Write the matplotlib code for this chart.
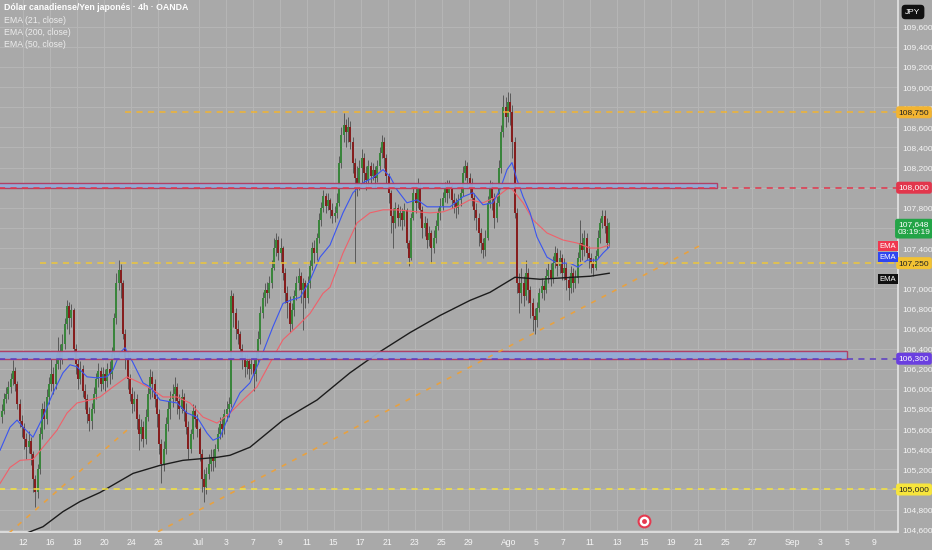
import matplotlib
matplotlib.use("Agg")
import matplotlib.pyplot as plt
import matplotlib.transforms as mtransforms
from matplotlib.patches import Rectangle
from matplotlib.ticker import FuncFormatter
import numpy as np
import pandas as pd

plt.rcParams['font.family'] = ['Liberation Sans Narrow', 'Liberation Sans', 'DejaVu Sans']

# CAD/JPY 4h candles, one row per trading day starting Jun 10 2025
first_day = "2025-06-10"
first_open = 105.88

closes = [
    [105.80, 105.72, 105.78, 105.90, 105.95, 106.02],
    [106.10, 106.18, 106.05, 105.85, 105.68, 105.62],
    [105.50, 105.42, 105.48, 105.35, 105.10, 104.98],
    [105.20, 105.55, 105.80, 105.70, 105.92, 106.05],
    [106.15, 106.05, 106.25, 106.38, 106.30, 106.45],
    [106.65, 106.82, 106.70, 106.78, 106.40, 106.25],
    [106.10, 106.20, 105.98, 105.90, 105.75, 105.68],
    [105.80, 105.95, 106.10, 106.18, 106.05, 106.15],
    [106.08, 106.20, 106.15, 106.35, 106.70, 107.05],
    [107.18, 107.05, 106.55, 106.30, 106.10, 105.95],
    [105.85, 105.90, 105.70, 105.55, 105.62, 105.50],
    [105.72, 105.95, 106.12, 106.05, 105.90, 105.75],
    [105.45, 105.25, 105.40, 105.65, 105.80, 105.90],
    [105.95, 106.02, 105.88, 105.80, 105.92, 105.78],
    [105.62, 105.40, 105.55, 105.78, 105.70, 105.60],
    [105.35, 105.10, 105.02, 105.15, 105.25, 105.32],
    [105.28, 105.40, 105.55, 105.65, 105.60, 105.75],
    [105.80, 105.85, 106.92, 106.75, 106.60, 106.55],
    [106.40, 106.30, 106.22, 106.28, 106.20, 106.25],
    [106.15, 106.30, 106.50, 106.75, 106.90, 106.98],
    [106.95, 107.05, 107.20, 107.40, 107.48, 107.35],
    [107.40, 107.15, 106.95, 106.85, 106.65, 106.78],
    [106.92, 107.05, 107.12, 106.98, 107.05, 106.90],
    [107.05, 107.22, 107.40, 107.35, 107.50, 107.68],
    [107.80, 107.92, 107.82, 107.88, 107.78, 107.72],
    [107.75, 107.85, 108.25, 108.52, 108.62, 108.55],
    [108.60, 108.45, 108.25, 108.10, 108.02, 108.20],
    [108.30, 108.15, 108.08, 108.22, 108.12, 108.18],
    [108.10, 108.22, 108.35, 108.45, 108.30, 108.12],
    [107.95, 107.72, 107.65, 107.80, 107.70, 107.75],
    [107.68, 107.78, 107.45, 107.30, 107.70, 107.95],
    [107.85, 108.00, 107.78, 107.60, 107.65, 107.48],
    [107.55, 107.40, 107.50, 107.62, 107.75, 107.82],
    [107.90, 108.00, 107.95, 108.02, 107.88, 107.85],
    [107.80, 107.88, 107.95, 108.15, 108.22, 108.10],
    [108.05, 107.90, 107.78, 107.70, 107.55, 107.45],
    [107.38, 107.50, 107.85, 108.02, 107.90, 107.70],
    [107.85, 108.20, 108.55, 108.80, 108.70, 108.85],
    [108.75, 108.45, 107.75, 107.05, 106.95, 107.05],
    [106.92, 107.15, 106.98, 106.85, 106.72, 106.68],
    [106.80, 106.95, 107.02, 106.98, 107.12, 107.18],
    [107.10, 107.25, 107.35, 107.22, 107.30, 107.15],
    [107.20, 107.08, 107.00, 107.15, 107.05, 107.10],
    [107.30, 107.45, 107.38, 107.50, 107.35, 107.30],
    [107.25, 107.20, 107.32, 107.50, 107.65, 107.72],
    [107.62, 107.45, 107.648],
]
highs = [
    [105.92, 105.84, 105.85, 105.96, 106.02, 106.08],
    [106.16, 106.29, 106.22, 106.08, 105.90, 105.74],
    [105.66, 105.56, 105.58, 105.52, 105.38, 105.14],
    [105.25, 105.62, 105.86, 105.88, 106.00, 106.12],
    [106.30, 106.22, 106.35, 106.52, 106.45, 106.55],
    [106.70, 106.88, 106.86, 106.84, 106.80, 106.45],
    [106.32, 106.28, 106.24, 106.05, 105.95, 105.82],
    [105.86, 106.02, 106.16, 106.26, 106.22, 106.22],
    [106.20, 106.26, 106.28, 106.42, 106.75, 107.15],
    [107.28, 107.24, 107.08, 106.60, 106.38, 106.15],
    [106.02, 105.98, 105.95, 105.75, 105.70, 105.68],
    [105.80, 106.02, 106.20, 106.18, 106.10, 105.95],
    [105.80, 105.50, 105.48, 105.72, 105.88, 105.98],
    [106.05, 106.12, 106.06, 105.95, 106.00, 105.96],
    [105.86, 105.68, 105.60, 105.85, 105.84, 105.75],
    [105.62, 105.40, 105.20, 105.22, 105.35, 105.40],
    [105.40, 105.45, 105.62, 105.72, 105.72, 105.80],
    [105.88, 105.92, 106.98, 106.95, 106.80, 106.68],
    [106.58, 106.45, 106.35, 106.35, 106.32, 106.30],
    [106.30, 106.38, 106.58, 106.82, 106.96, 107.05],
    [107.06, 107.12, 107.28, 107.50, 107.55, 107.52],
    [107.50, 107.42, 107.20, 107.02, 106.92, 106.85],
    [106.98, 107.12, 107.20, 107.16, 107.10, 107.08],
    [107.12, 107.28, 107.46, 107.48, 107.55, 107.75],
    [107.86, 107.98, 107.95, 107.95, 107.90, 107.85],
    [107.82, 107.95, 108.32, 108.60, 108.74, 108.68],
    [108.70, 108.66, 108.50, 108.30, 108.22, 108.28],
    [108.38, 108.35, 108.22, 108.28, 108.26, 108.25],
    [108.22, 108.28, 108.40, 108.52, 108.50, 108.34],
    [108.15, 107.98, 107.80, 107.86, 107.84, 107.82],
    [107.80, 107.85, 107.80, 107.48, 107.75, 108.02],
    [108.02, 108.10, 108.05, 107.82, 107.72, 107.70],
    [107.62, 107.58, 107.58, 107.68, 107.80, 107.90],
    [107.96, 108.06, 108.08, 108.08, 108.04, 107.95],
    [107.90, 107.94, 108.02, 108.22, 108.28, 108.26],
    [108.15, 108.10, 107.95, 107.85, 107.75, 107.60],
    [107.50, 107.58, 107.92, 108.08, 108.06, 107.95],
    [107.92, 108.28, 108.62, 108.92, 108.90, 108.95],
    [108.94, 108.82, 108.50, 107.80, 107.15, 107.20],
    [107.12, 107.28, 107.20, 107.02, 106.90, 106.80],
    [106.86, 107.00, 107.10, 107.08, 107.20, 107.25],
    [107.25, 107.32, 107.42, 107.40, 107.38, 107.34],
    [107.30, 107.25, 107.12, 107.22, 107.20, 107.18],
    [107.36, 107.68, 107.55, 107.58, 107.55, 107.42],
    [107.35, 107.30, 107.38, 107.58, 107.70, 107.78],
    [107.78, 107.70, 107.66],
]
lows = [
    [105.74, 105.64, 105.66, 105.75, 105.86, 105.90],
    [105.96, 106.04, 105.98, 105.80, 105.62, 105.52],
    [105.40, 105.30, 105.36, 105.24, 104.98, 104.83],
    [104.92, 105.15, 105.50, 105.60, 105.65, 105.85],
    [105.98, 105.95, 106.00, 106.20, 106.20, 106.25],
    [106.40, 106.60, 106.55, 106.62, 106.35, 106.15],
    [106.00, 106.05, 105.92, 105.80, 105.66, 105.58],
    [105.60, 105.76, 105.90, 106.02, 105.98, 106.00],
    [105.98, 106.02, 106.05, 106.10, 106.30, 106.65],
    [106.98, 106.90, 106.50, 106.20, 106.00, 105.88],
    [105.76, 105.78, 105.60, 105.39, 105.48, 105.42],
    [105.45, 105.68, 105.90, 105.92, 105.82, 105.62],
    [105.35, 105.06, 105.18, 105.35, 105.58, 105.70],
    [105.82, 105.88, 105.75, 105.70, 105.76, 105.68],
    [105.55, 105.30, 105.36, 105.50, 105.62, 105.52],
    [105.28, 104.98, 104.88, 104.96, 105.10, 105.18],
    [105.18, 105.22, 105.38, 105.50, 105.52, 105.55],
    [105.68, 105.72, 105.82, 106.62, 106.50, 106.45],
    [106.32, 106.20, 106.12, 106.15, 106.10, 106.15],
    [105.98, 106.08, 106.25, 106.45, 106.70, 106.82],
    [106.85, 106.90, 107.00, 107.18, 107.32, 107.28],
    [107.25, 107.08, 106.85, 106.70, 106.57, 106.60],
    [106.72, 106.88, 106.98, 106.85, 106.59, 106.80],
    [106.85, 107.00, 107.18, 107.25, 107.28, 107.45],
    [107.62, 107.76, 107.75, 107.78, 107.70, 107.65],
    [107.66, 107.70, 107.82, 108.20, 108.45, 108.40],
    [108.45, 108.38, 108.15, 107.25, 107.92, 107.98],
    [108.05, 108.05, 107.98, 108.02, 108.04, 108.08],
    [108.00, 108.06, 108.18, 108.30, 108.20, 108.05],
    [107.85, 107.55, 107.40, 107.60, 107.62, 107.62],
    [107.58, 107.62, 107.40, 107.22, 107.28, 107.68],
    [107.75, 107.80, 107.70, 107.50, 107.52, 107.40],
    [107.42, 107.25, 107.35, 107.45, 107.58, 107.68],
    [107.78, 107.86, 107.85, 107.90, 107.80, 107.75],
    [107.70, 107.74, 107.82, 107.92, 108.08, 108.00],
    [107.95, 107.82, 107.68, 107.58, 107.42, 107.35],
    [107.30, 107.32, 107.48, 107.80, 107.78, 107.60],
    [107.66, 107.82, 108.15, 108.50, 108.60, 108.65],
    [108.62, 108.30, 107.70, 106.95, 106.75, 106.85],
    [106.82, 106.88, 106.85, 106.70, 106.58, 106.55],
    [106.62, 106.76, 106.90, 106.88, 106.95, 107.05],
    [107.02, 107.05, 107.20, 107.12, 107.15, 107.08],
    [107.08, 106.98, 106.88, 106.95, 106.96, 107.00],
    [107.05, 107.25, 107.28, 107.32, 107.28, 107.20],
    [107.15, 107.12, 107.18, 107.30, 107.45, 107.60],
    [107.55, 107.40, 107.42],
]

# EMA traces: (trading day from Jun 10, price)
ema21 = [(0.30, 105.39), (1.04, 105.62), (1.56, 105.69), (2.0, 105.62), (2.74, 105.52),
         (3.48, 105.72), (4.22, 105.96), (4.96, 106.16), (5.48, 106.24), (6.0, 106.22),
         (6.74, 106.12), (7.48, 106.11), (8.22, 106.12), (8.67, 106.19), (9.19, 106.36),
         (9.56, 106.41), (10.15, 106.26), (10.89, 106.06), (11.41, 106.02), (12.15, 105.89),
         (13.41, 105.86), (14.15, 105.76), (14.89, 105.72), (15.63, 105.56), (16.07, 105.49),
         (16.59, 105.52), (17.33, 105.76), (18.07, 105.96), (18.81, 106.06), (19.56, 106.29),
         (20.52, 106.62), (21.26, 106.85), (21.78, 106.88), (22.52, 106.91), (23.26, 107.08),
         (24.0, 107.31), (24.74, 107.43), (25.70, 107.75), (26.44, 107.95), (27.19, 108.05),
         (27.93, 108.10), (28.67, 108.18), (29.19, 108.11), (29.70, 107.98), (30.44, 107.85),
         (31.19, 107.88), (31.93, 107.81), (32.67, 107.81), (33.63, 107.81), (34.59, 107.91),
         (35.33, 107.95), (36.07, 107.83), (36.81, 107.85), (37.33, 107.98), (37.85, 108.18),
         (38.22, 108.25), (38.59, 108.08), (39.04, 107.91), (39.56, 107.75), (40.07, 107.51),
         (40.81, 107.31), (41.56, 107.25), (42.52, 107.25), (43.11, 107.21), (43.78, 107.28),
         (44.52, 107.28), (44.96, 107.35), (45.42, 107.41)]
ema50 = [(0.30, 105.06), (1.04, 105.22), (1.78, 105.29), (2.74, 105.30), (3.48, 105.42),
         (4.52, 105.59), (5.26, 105.76), (6.0, 105.86), (6.96, 105.89), (7.70, 105.92),
         (8.67, 106.02), (9.70, 106.12), (10.67, 106.06), (11.63, 105.99), (12.37, 105.92),
         (13.41, 105.92), (14.37, 105.86), (15.33, 105.72), (16.37, 105.66), (17.33, 105.76),
         (18.30, 105.89), (19.33, 106.02), (20.30, 106.26), (21.26, 106.49), (22.30, 106.62),
         (23.26, 106.75), (24.22, 106.95), (24.74, 107.01), (25.70, 107.35), (26.74, 107.65),
         (27.70, 107.75), (28.67, 107.78), (29.70, 107.78), (31.19, 107.76), (32.15, 107.75),
         (33.11, 107.76), (34.15, 107.81), (35.11, 107.88), (36.07, 107.85), (37.11, 107.91),
         (38.07, 108.01), (39.04, 107.85), (39.78, 107.68), (40.81, 107.55), (42.0, 107.48),
         (43.04, 107.45), (44.0, 107.40), (44.74, 107.40), (45.42, 107.43)]
ema200 = [(0.30, 104.47), (2.52, 104.58), (3.48, 104.63), (4.96, 104.78), (6.22, 104.88),
          (7.70, 104.97), (10.15, 105.16), (12.15, 105.24), (13.85, 105.29), (16.37, 105.32),
          (17.33, 105.34), (18.81, 105.42), (21.26, 105.69), (23.78, 105.89), (26.22, 106.16),
          (28.44, 106.37), (30.67, 106.56), (32.89, 106.73), (35.11, 106.88), (36.59, 106.96),
          (38.07, 107.08), (38.44, 107.11), (40.30, 107.09), (42.74, 107.11), (44.0, 107.12),
          (45.42, 107.15)]

# drawings
zone_top = (108.00, 108.05, 53.4)      # low, high, right end (trading day)
zone_low = (106.30, 106.38, 63.0)
level_lines = [(108.75, 9.56, '#f2b431'), (107.25, 3.26, '#eec63a'), (105.00, 0.0, '#f7e53c'),
               (108.00, 0.0, '#e2364c'), (106.30, 0.0, '#5b3cc4')]
trend_lines = [((0.30, 104.49), (9.70, 105.59)), ((12.0, 104.58), (52.5, 107.45))]
event_day, event_price = 48.0, 104.69

tick_dates = ["2025-06-12", "2025-06-16", "2025-06-18", "2025-06-20", "2025-06-24", "2025-06-26",
              "2025-07-01", "2025-07-03", "2025-07-07", "2025-07-09", "2025-07-11", "2025-07-15",
              "2025-07-17", "2025-07-21", "2025-07-23", "2025-07-25", "2025-07-29", "2025-08-01",
              "2025-08-05", "2025-08-07", "2025-08-11", "2025-08-13", "2025-08-15", "2025-08-19",
              "2025-08-21", "2025-08-25", "2025-08-27", "2025-09-01", "2025-09-03", "2025-09-05",
              "2025-09-09"]
tick_labels = ["12", "16", "18", "20", "24", "26", "Jul", "3", "7", "9", "11", "15", "17", "21",
               "23", "25", "29", "Ago", "5", "7", "11", "13", "15", "19", "21", "25", "27", "Sep",
               "3", "5", "9"]
# price-axis labels hidden behind the coloured price tags
hidden_ticks = [108.0, 107.6, 107.2, 105.0]

BG = '#a9a9a9'
GRID = '#b6b6b6'
TXT = '#f5f5f5'

# flatten candles
xs, o, h, l, c = [], [], [], [], []
prev = first_open
for day, (cs, hs, ls) in enumerate(zip(closes, highs, lows)):
    for k in range(len(cs)):
        xs.append(day + k / 6 + 1 / 12)
        o.append(prev)
        c.append(cs[k])
        h.append(max(hs[k], prev, cs[k]))
        l.append(min(ls[k], prev, cs[k]))
        prev = cs[k]
xs, o, h, l, c = map(np.array, (xs, o, h, l, c))
up = c >= o

fig = plt.figure(figsize=(9.32, 5.5), dpi=100)
fig.patch.set_facecolor(BG)
ax = fig.add_axes([0, 18 / 550, 898 / 932, 532 / 550])
ax.set_facecolor(BG)

ax.vlines(xs, l, h, colors='#545454', lw=0.65, zorder=3)
ax.bar(xs, np.maximum(np.abs(c - o), 0.006), bottom=np.minimum(o, c), width=0.15,
       color=np.where(up, '#3a853c', '#861e1e'), linewidth=0, zorder=4)

for pts, col, lw in [(ema200, '#1c1c1c', 1.0), (ema50, '#f0606a', 0.8), (ema21, '#3a55f0', 0.8)]:
    px, py = zip(*pts)
    ax.plot(px, py, color=col, lw=lw, zorder=5)

x_left, x_right = 0.296, 66.81
for lo, hi, xr in (zone_top, zone_low):
    ax.add_patch(Rectangle((x_left - 1, lo), xr - x_left + 1, hi - lo, facecolor='#93acd8',
                           edgecolor='#b03a62', lw=1.0, alpha=0.95, zorder=6))
for price, x0, col in level_lines:
    ax.hlines(price, max(x0, x_left - 1), x_right + 1, colors=col, lw=1.1,
              linestyles=(0, (4, 3.5)), zorder=7)
for (x0, y0), (x1, y1) in trend_lines:
    ax.plot([x0, x1], [y0, y1], color='#f3a02e', lw=1.2, ls=(0, (3, 4)), alpha=0.85, zorder=6)

ax.plot(event_day, event_price, 'o', ms=10, mfc='#e5394f', mec='none', zorder=8, clip_on=False)
ax.plot(event_day, event_price, 'o', ms=7, mfc='white', mec='none', zorder=8, clip_on=False)
ax.plot(event_day, event_price, 'o', ms=3.5, mfc='#e5394f', mec='none', zorder=8, clip_on=False)

ax.set_xlim(x_left, x_right)
ax.set_ylim(104.5775, 109.866)

bdays = pd.bdate_range(first_day, "2025-09-30")
tick_pos = [bdays.get_loc(pd.Timestamp(d)) for d in tick_dates]
ax.set_xticks(tick_pos)
ax.set_xticklabels(tick_labels)
ax.yaxis.tick_right()
ax.set_yticks(np.round(np.arange(104.6, 109.61, 0.2), 1))


def price_fmt(v, _):
    if any(abs(v - t) < 1e-6 for t in hidden_ticks):
        return ''
    return f"{v:.3f}".replace('.', ',')


ax.yaxis.set_major_formatter(FuncFormatter(price_fmt))
ax.tick_params(axis='y', length=0, pad=3.0, labelsize=6, labelcolor=TXT)
ax.tick_params(axis='x', length=0, pad=4, labelsize=6.2, labelcolor=TXT)
ax.grid(True, color=GRID, lw=0.7)
ax.set_axisbelow(True)
for s in ('top', 'left'):
    ax.spines[s].set_visible(False)
for s in ('right', 'bottom'):
    ax.spines[s].set_color('#e4e4e4')
    ax.spines[s].set_linewidth(1.2)

tr = mtransforms.blended_transform_factory(ax.transAxes, ax.transData)
tag_x = 914 / 898


def price_tag(price, text, fc, tc, pad=0.3):
    ax.text(tag_x, price, text, transform=tr, ha='center', va='center', fontsize=6, color=tc,
            clip_on=False, zorder=10, linespacing=1.15,
            bbox=dict(boxstyle=f'round,pad={pad}', fc=fc, ec='none'))


price_tag(108.75, '108,750', '#f2b431', '#222222')
price_tag(108.00, '108,000', '#e2364c', 'white')
price_tag(107.25, '107,250', '#f2c233', '#222222')
price_tag(106.30, '106,300', '#6a3fe0', 'white')
price_tag(105.00, '105,000', '#f7e53c', '#222222')
price_tag(c[-1] - 0.055, f"{c[-1]:.3f}".replace('.', ',') + "\n03:19:19", '#23a447', 'white')

# EMA name tags at the right edge of the pane
for price, col in [(107.42, '#f0374f'), (107.31, '#2f46f0'), (107.09, '#111111')]:
    ax.text(888 / 898, price, 'EMA', transform=tr, ha='center', va='center', fontsize=5.5,
            color='white', zorder=10, clip_on=False,
            bbox=dict(boxstyle='square,pad=0.2', fc=col, ec='none'))

fig.text(913 / 932, 1 - 12 / 550, 'JPY', ha='center', va='center', fontsize=6, color='white',
         bbox=dict(boxstyle='round,pad=0.45', fc='#111111', ec='none'))

fig.text(4 / 932, 1 - 8 / 550, 'Dólar canadiense/Yen japonés · 4h · OANDA', fontsize=6.3,
         color='white', weight='bold', va='center')
for i, name in enumerate(['EMA (21, close)', 'EMA (200, close)', 'EMA (50, close)']):
    fig.text(4 / 932, 1 - (20.5 + 12 * i) / 550, name, fontsize=6.3, color='#ececec', va='center')

fig.savefig('out.png', dpi=100, facecolor=BG)
